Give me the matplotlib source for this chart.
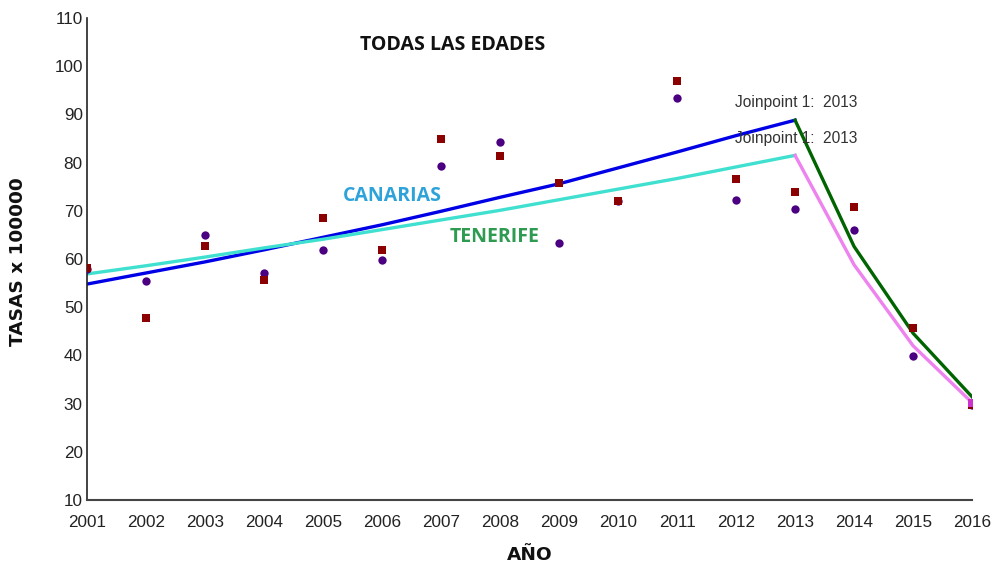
import matplotlib
matplotlib.use("Agg")
import matplotlib.pyplot as plt

years = list(range(2001, 2017))
# observed rates
tenerife_obs = [58.1, 47.8, 62.8, 55.6, 68.6, 61.9, 84.9, 81.3, 75.7, 72.1, 96.9, 76.5, 73.9, 70.8, 45.7, 29.7]
canarias_obs = [58.0, 55.4, 65.0, 57.0, 61.8, 59.8, 79.3, 84.3, 63.4, 72.1, 93.5, 72.2, 70.4, 66.0, 39.9, 29.7]

# joinpoint fitted values
fit_years_1 = list(range(2001, 2014))
fit_years_2 = list(range(2013, 2017))
ten_fit_1 = [54.8, 57.1, 59.4, 61.9, 64.5, 67.1, 69.9, 72.8, 75.6, 78.9, 82.2, 85.6, 88.8]
ten_fit_2 = [88.8, 62.6, 44.6, 31.4]
can_fit_1 = [56.9, 58.6, 60.4, 62.3, 64.1, 66.1, 68.1, 70.1, 72.3, 74.5, 76.7, 79.1, 81.5]
can_fit_2 = [81.5, 58.8, 42.0, 30.2]

yticks = list(range(10, 111, 10))

fig = plt.figure(figsize=(9.97, 5.66), dpi=100)
ax = fig.add_axes([0.0873, 0.1166, 0.8877, 0.8516])

ax.plot(fit_years_1, ten_fit_1, color="#0000e6", lw=2.4, zorder=2)
ax.plot(fit_years_2, ten_fit_2, color="#006400", lw=2.4, zorder=2)
ax.plot(fit_years_1, can_fit_1, color="#40e0d0", lw=2.4, zorder=2)
ax.plot(fit_years_2, can_fit_2, color="#ee82ee", lw=2.4, zorder=2)

ax.scatter(years, canarias_obs, marker="o", s=36, color="#4b0082", zorder=3, linewidths=0)
ax.scatter(years, tenerife_obs, marker="s", s=40, color="#8b0000", zorder=4, linewidths=0)
ax.scatter([years[-1]], [can_fit_2[-1]], marker="s", s=30, color="#cc33cc", zorder=5, linewidths=0)

ax.set_xlim(2001, 2016)
ax.set_ylim(10, 110)
ax.set_xticks(years)
ax.set_yticks(yticks)
ax.tick_params(axis="both", length=0, labelsize=12.3, colors="#222222")
ax.tick_params(axis="x", pad=11)
ax.tick_params(axis="y", pad=3)
for lab in ax.get_xticklabels() + ax.get_yticklabels():
    lab.set_family("Liberation Sans")
ax.spines["top"].set_visible(False)
ax.spines["right"].set_visible(False)
ax.spines["left"].set_color("#222222")
ax.spines["bottom"].set_color("#444444")
ax.spines["left"].set_linewidth(1.2)
ax.spines["bottom"].set_linewidth(1.5)

ax.text(2007.19, 104.3, "TODAS LAS EDADES", fontsize=14, fontweight="bold",
        family="Open Sans", color="#111111", ha="center", va="center")
ax.text(2006.17, 73.0, "CANARIAS", fontsize=14, fontweight="bold",
        family="Open Sans", color="#2ea3d9", ha="center", va="center")
ax.text(2007.9, 64.5, "TENERIFE", fontsize=14, fontweight="bold",
        family="Open Sans", color="#2e9b50", ha="center", va="center")
ax.text(2011.98, 92.4, "Joinpoint 1:  2013", fontsize=11.2, family="Liberation Sans",
        color="#333333", ha="left", va="center")
ax.text(2011.98, 85.0, "Joinpoint 1:  2013", fontsize=11.2, family="Liberation Sans",
        color="#333333", ha="left", va="center")

fig.text(0.5316, 0.0194, "AÑO", fontsize=13.3, fontweight="bold", family="DejaVu Sans",
         color="#111111", ha="center", va="center")
fig.text(0.018, 0.538, "TASAS x 100000", fontsize=13.3, fontweight="bold", family="DejaVu Sans",
         color="#111111", ha="center", va="center", rotation=90)

fig.savefig("out.png", dpi=100)
